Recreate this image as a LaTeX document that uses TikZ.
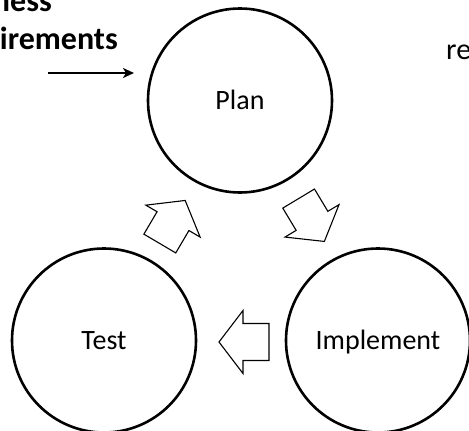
\documentclass[tikz,border=0pt]{standalone}
\usepackage{fontspec}
\setmainfont{Carlito}
\usetikzlibrary{arrows.meta}
\tikzset{
  phase/.style={circle, draw, line width=2.6pt, inner sep=0pt,
    minimum size=184pt, font=\fontsize{28}{30}\selectfont,
    text height=18.5pt, text depth=0pt},
  flow/.style={draw, line width=1.1pt, line join=miter},
  note/.style={font=\fontsize{32}{34}\selectfont\bfseries, inner sep=0pt},
}
% hollow block arrow centred on a given point, pointing along the given angle
\newcommand{\blockarrow}[2]{%
  \draw[flow, shift={#1}, rotate=#2]
    (-25,-18.5) -- (1,-18.5) -- (1,-31.5) -- (25,0) -- (1,31.5)
    -- (1,18.5) -- (-25,18.5) -- cycle;}
\begin{document}
\begin{tikzpicture}[x=1pt, y=-1pt]
  \useasboundingbox (0,0) rectangle (469,431);
  \clip (0,0) rectangle (469,431);

  % the three phases of the cycle
  \node[phase] (plan) at (240,100.5) {Plan};
  \node[phase] (impl) at (378,340.5) {Implement};
  \node[phase] (test) at (104,340.5) {Test};

  % block arrows between the phases
  \coordinate (pi) at (311.5,220);
  \coordinate (it) at (244,342);
  \coordinate (tp) at (172.5,222);
  \blockarrow{(pi)}{-59}
  \blockarrow{(it)}{180}
  \blockarrow{(tp)}{59.5}

  % incoming requirements
  \node[note, anchor=base east] (bus) at (52,12) {ness};
  \node[note, anchor=base east] (req) at (118,49) {irements};
  \coordinate (in) at (48,73);
  \coordinate (inend) at (134,73);
  \draw[line width=2.2pt, -{Stealth[length=11pt, width=10pt, inset=3pt]}] (in) -- (inend);

  \node[font=\fontsize{30}{32}\selectfont, anchor=base west, inner sep=0pt] (res) at (446,59) {re};
\end{tikzpicture}
\end{document}
